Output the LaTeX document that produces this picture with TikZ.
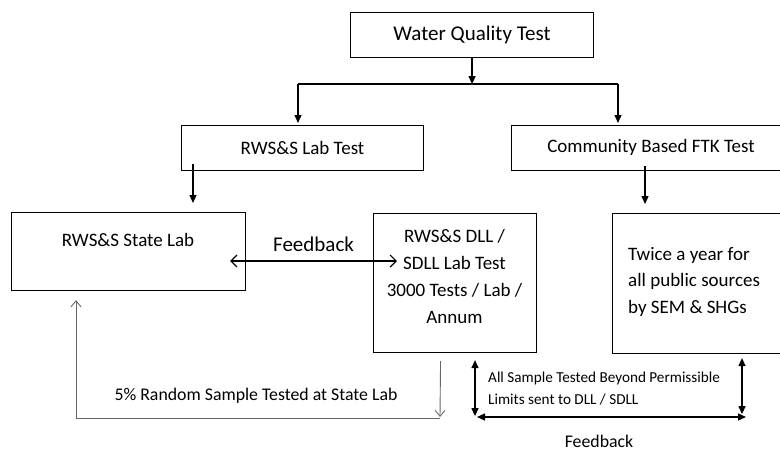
\documentclass[tikz,border=0pt]{standalone}
\usepackage{fontspec}
\setmainfont{Carlito}
\usetikzlibrary{arrows.meta,calc}
\begin{document}
\begin{tikzpicture}[x=1pt,y=-1pt,
  box/.style={draw,line width=1.1pt,inner sep=0pt,anchor=north west},
  arr/.style={line width=1.2pt,-{Triangle[length=8pt,width=7pt]}},
  darr/.style={line width=1.2pt,{Triangle[length=8pt,width=7pt]}-{Triangle[length=8pt,width=7pt]}},
  varr/.style={line width=1.2pt,{Straight Barb[length=6pt,width=12pt]}-{Straight Barb[length=6pt,width=12pt]}},
  glink/.style={line width=0.9pt,draw=black!60,-{Straight Barb[length=6pt,width=10pt]}},
  big/.style={font=\fontsize{21}{26}\selectfont},
  mid/.style={font=\fontsize{19}{27}\selectfont},
  sml/.style={font=\fontsize{17.8}{22}\selectfont},
  tiny/.style={font=\fontsize{15.2}{22}\selectfont}]
\useasboundingbox (0,0) rectangle (780,451);
% boxes
\node[box,minimum width=243pt,minimum height=45pt,big] (wqt) at (350,12) {Water Quality Test};
\node[box,minimum width=242pt,minimum height=45pt,mid] (lab) at (181,125) {RWS\&S Lab Test};
\node[box,minimum width=275pt,minimum height=45pt] (ftk) at (511,125) {};
\node[mid] (ftkt) at (651,147.5) {Community Based FTK Test};
\node[box,minimum width=234pt,minimum height=78pt] (state) at (11,212) {};
\node[mid] (statet) at (128,240) {RWS\&S State Lab};
\node[box,minimum width=163pt,minimum height=139pt] (dll) at (373,213) {};
\node[mid,align=center,anchor=north] (dllt) at (454.5,226) {RWS\&S DLL /\\SDLL Lab Test\\3000 Tests / Lab /\\Annum};
\node[box,minimum width=175pt,minimum height=140pt] (twice) at (612,213) {};
\node[mid,align=left,anchor=north west,inner sep=0pt,font=\fontsize{19}{26.5}\selectfont] (twicet) at (628,247) {Twice a year for\\all public sources\\by SEM \& SHGs};
% top tree
\coordinate (hl) at (298,84);
\coordinate (hr) at (618,84);
\draw[arr] (wqt.south) -- ($(wqt.south)+(0,26)$);
\draw[line width=1.1pt] (hl) -- (hr);
\draw[arr] (hl) -- ($(hl |- lab.north)+(0,-2)$);
\draw[arr] (hr) -- ($(hr |- ftk.north)+(0,-2)$);
\draw[arr] ($(lab.south west)+(12,-7)$) -- ($(lab.south west |- state.north)+(12,-9)$);
\draw[arr] ($(ftk.south west)+(134,-5)$) -- ($(ftk.south west |- twice.north)+(134,-9)$);
% feedback
\draw[varr] ($(state.north east)+(-16,49)$) -- node[above=5pt,font=\fontsize{21}{26}\selectfont] (fb1) {Feedback} ($(dll.north west)+(24,48)$);
% gray loop
\coordinate (g1) at (440,418);
\coordinate (g2) at (76,418);
\draw[glink] ($(dll.south)+(-14.5,8)$) -- ($(g1)+(0,-1)$);
\draw[glink] (g1) -- (g2) -- ($(state.south west)+(65,9)$);
\node[sml] (five) at (256,396) {5\% Random Sample Tested at State Lab};
% bottom right
\draw[darr] ($(dll.south west)+(102,7)$) -- ($(dll.south west)+(102,63)$);
\draw[darr] ($(twice.south west)+(130,4)$) -- ($(twice.south west)+(130,60)$);
\coordinate (h1) at (477,417);
\coordinate (h2) at (746,417);
\draw[darr] (h1) -- (h2);
\node[tiny,align=left,anchor=west,inner sep=0pt] (allt) at (488,389) {All Sample Tested Beyond Permissible\\Limits sent to DLL / SDLL};
\node[sml] (fb2) at (599,441) {Feedback};
\end{tikzpicture}
\end{document}
